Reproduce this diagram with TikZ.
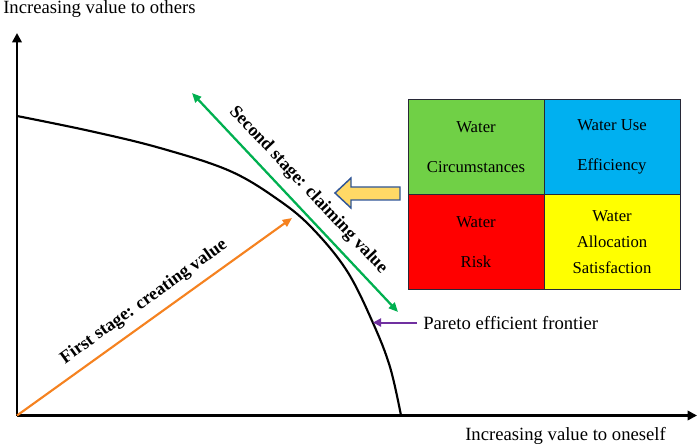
\documentclass[tikz,border=0pt]{standalone}
\usepackage{fontspec}
\setmainfont{Liberation Serif}
\usetikzlibrary{arrows.meta,positioning}
\def\wrgb#1#2#3{rgb,255:red,#1;green,#2;blue,#3}

\begin{document}
\begin{tikzpicture}[x=0.75pt,y=-0.75pt,
  axis/.style={line width=1.9pt,-{Triangle[length=7pt,width=7pt]}},
  frontier/.style={line width=1.6pt},
  cell/.style={draw=\wrgb{40}{40}{55},line width=0.6pt,minimum width=102pt,minimum height=71pt,inner sep=0pt,align=center,font=\fontsize{12.5}{30}\selectfont},
  stagetext/.style={sloped,above=6.5pt,inner sep=0pt,text=black,font=\fontsize{13.5}{15}\selectfont\bfseries},
  plain/.style={inner sep=0pt,font=\fontsize{14}{16}\selectfont}]

\useasboundingbox (0,0) rectangle (699,445);

% Put legends if any...
\node (ylab) [plain,anchor=base west] at (3,13.5) {Increasing value to others};
\node (xlab) [plain,anchor=base west] at (465,440) {Increasing value to oneself};
\node (pareto) [plain,inner xsep=4.5pt,anchor=base west] at (417,329) {Pareto efficient frontier};

% Draw the nodes...
\node (wc) [cell,fill=\wrgb{112}{208}{70}] at (476,147) {Water\\Circumstances};
\node (wue) [cell,fill=\wrgb{0}{176}{240},right=-0.6pt of wc] {Water Use\\Efficiency};
\node (wr) [cell,fill=\wrgb{255}{0}{0},below=-0.6pt of wc] {Water\\Risk};
\node (was) [cell,fill=\wrgb{255}{255}{0},below=-0.6pt of wue,font=\fontsize{12.5}{19.5}\selectfont] {Water\\Allocation\\Satisfaction};

\coordinate (o) at (17,415.5);
\coordinate (ytip) at (17,33);
\coordinate (xtip) at (697,415.5);
\coordinate (kink) at (292,218);
\coordinate (g1) at (192,93);
\coordinate (g2) at (398,312);
\coordinate (pf) at (373,324);

% Draw the edges...
\draw[axis] (o) -- (ytip);
\draw[axis] (o) -- (xtip);
\draw[frontier] plot[smooth,tension=0.6] coordinates {(17,116) (90,131) (160,148) (230,171) (280,201) (313,229) (347,271) (373,323) (390,367) (401,415.5)};

\draw[line width=1.6pt,color=\wrgb{245}{130}{32},-{Triangle[length=7pt,width=6pt]}] (o) -- (kink)
  node[midway,stagetext] {First stage: creating value};
\draw[line width=1.7pt,color=\wrgb{0}{176}{80},{Triangle[length=7pt,width=6pt]}-{Triangle[length=7pt,width=6pt]}] (g1) -- (g2)
  node[midway,stagetext] {Second stage: claiming value};
\draw[line width=1.5pt,color=\wrgb{112}{48}{160},-{Triangle[length=6pt,width=6pt]}] (pareto.west) -- (pareto.west -| pf);

% block arrow
\draw[line width=1.1pt,draw=\wrgb{47}{85}{151},fill=\wrgb{255}{217}{102}]
  (335,193) -- (351,178) -- (351,187) -- (400,187) -- (400,200) -- (351,200) -- (351,208) -- cycle;

\end{tikzpicture}
\end{document}
